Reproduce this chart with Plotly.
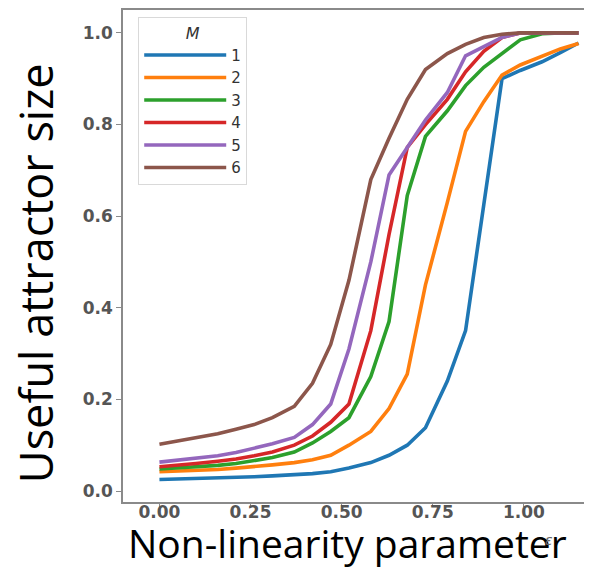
import plotly.graph_objects as go

# Non-linearity parameter grid (epsilon)
eps = [0.00, 0.05, 0.10, 0.16, 0.21, 0.26, 0.31, 0.37, 0.42, 0.47, 0.52, 0.58,
       0.63, 0.68, 0.73, 0.79, 0.84, 0.89, 0.94, 0.99, 1.05, 1.10, 1.15]

# Useful attractor size for each M
size_m1 = [0.025, 0.026, 0.027, 0.028, 0.029, 0.031, 0.033, 0.035, 0.038, 0.042, 0.050, 0.062,
           0.078, 0.100, 0.138, 0.240, 0.350, 0.625, 0.900, 0.918, 0.937, 0.957, 0.978]
size_m2 = [0.042, 0.043, 0.045, 0.047, 0.050, 0.053, 0.057, 0.062, 0.068, 0.078, 0.100, 0.130,
           0.180, 0.255, 0.450, 0.630, 0.785, 0.850, 0.908, 0.930, 0.950, 0.965, 0.977]
size_m3 = [0.048, 0.050, 0.052, 0.056, 0.060, 0.066, 0.073, 0.085, 0.105, 0.130, 0.160, 0.250,
           0.370, 0.645, 0.774, 0.830, 0.885, 0.925, 0.955, 0.985, 0.998, 1.000, 1.000]
size_m4 = [0.053, 0.056, 0.060, 0.065, 0.070, 0.077, 0.085, 0.100, 0.120, 0.150, 0.190, 0.350,
           0.560, 0.750, 0.800, 0.855, 0.915, 0.960, 0.990, 1.000, 1.000, 1.000, 1.000]
size_m5 = [0.063, 0.067, 0.071, 0.077, 0.084, 0.093, 0.103, 0.117, 0.145, 0.190, 0.310, 0.500,
           0.690, 0.750, 0.810, 0.870, 0.950, 0.970, 0.990, 1.000, 1.000, 1.000, 1.000]
size_m6 = [0.102, 0.109, 0.117, 0.125, 0.135, 0.145, 0.160, 0.185, 0.235, 0.320, 0.460, 0.680,
           0.770, 0.855, 0.920, 0.955, 0.975, 0.990, 0.997, 1.000, 1.000, 1.000, 1.000]

series = [("1", size_m1), ("2", size_m2), ("3", size_m3),
          ("4", size_m4), ("5", size_m5), ("6", size_m6)]
colors = ["#1f77b4", "#ff7f0e", "#2ca02c", "#d62728", "#9467bd", "#8c564b"]

x_ticks = [0.0, 0.25, 0.5, 0.75, 1.0]
x_ticklabels = ["0.00", "0.25", "0.50", "0.75", "1.00"]
y_ticks = [0.0, 0.2, 0.4, 0.6, 0.8, 1.0]
y_ticklabels = ["0.0", "0.2", "0.4", "0.6", "0.8", "1.0"]

fig = go.Figure()
for (name, vals), col in zip(series, colors):
    fig.add_trace(go.Scatter(x=eps, y=vals, mode="lines", name=name,
                             line=dict(color=col, width=3.6)))

tick_font = dict(family="DejaVu Sans", size=17, color="#555555", weight="bold")

fig.update_layout(
    width=610, height=567,
    margin=dict(l=123, r=26, t=8, b=65),
    paper_bgcolor="white", plot_bgcolor="white",
    showlegend=True,
    legend=dict(
        x=0.033, y=0.986, xanchor="left", yanchor="top",
        bgcolor="white", bordercolor="#d9d9d9", borderwidth=1,
        font=dict(family="DejaVu Sans", size=15, color="#333333"),
        title=dict(text="<i>M</i>", side="top center",
                   font=dict(family="DejaVu Sans", size=16, color="#333333")),
        itemwidth=82, tracegroupgap=0,
    ),
    xaxis=dict(
        range=[-0.1, 1.165], showgrid=False, zeroline=False,
        showline=True, linecolor="#8a8a8a", linewidth=1.5, mirror=True,
        ticks="outside", ticklen=3, tickcolor="#8a8a8a",
        tickvals=x_ticks, ticktext=x_ticklabels, tickfont=tick_font,
        ticklabelstandoff=-9,
    ),
    yaxis=dict(
        range=[-0.024, 1.05], showgrid=False, zeroline=False,
        showline=True, linecolor="#8a8a8a", linewidth=1.5,
        ticks="outside", ticklen=5, tickcolor="#8a8a8a",
        tickvals=y_ticks, ticktext=y_ticklabels, tickfont=tick_font,
    ),
    annotations=[
        dict(text="Non-linearity parameter", xref="paper", yref="paper",
             x=0.488, y=-0.024, xanchor="center", yanchor="top",
             showarrow=False, font=dict(family="Open Sans", size=39, color="#000000")),
        dict(text="Useful attractor size", xref="paper", yref="paper",
             x=-0.19, y=0.466, xanchor="center", yanchor="middle", textangle=-90,
             showarrow=False, font=dict(family="Open Sans", size=45, color="#000000")),
        dict(text="<i>ε</i>", xref="paper", yref="paper", x=0.924, y=-0.077,
             xanchor="center", yanchor="middle",
             showarrow=False, font=dict(family="DejaVu Sans", size=14, color="#666666")),
    ],
)

fig.write_html("out.html")
